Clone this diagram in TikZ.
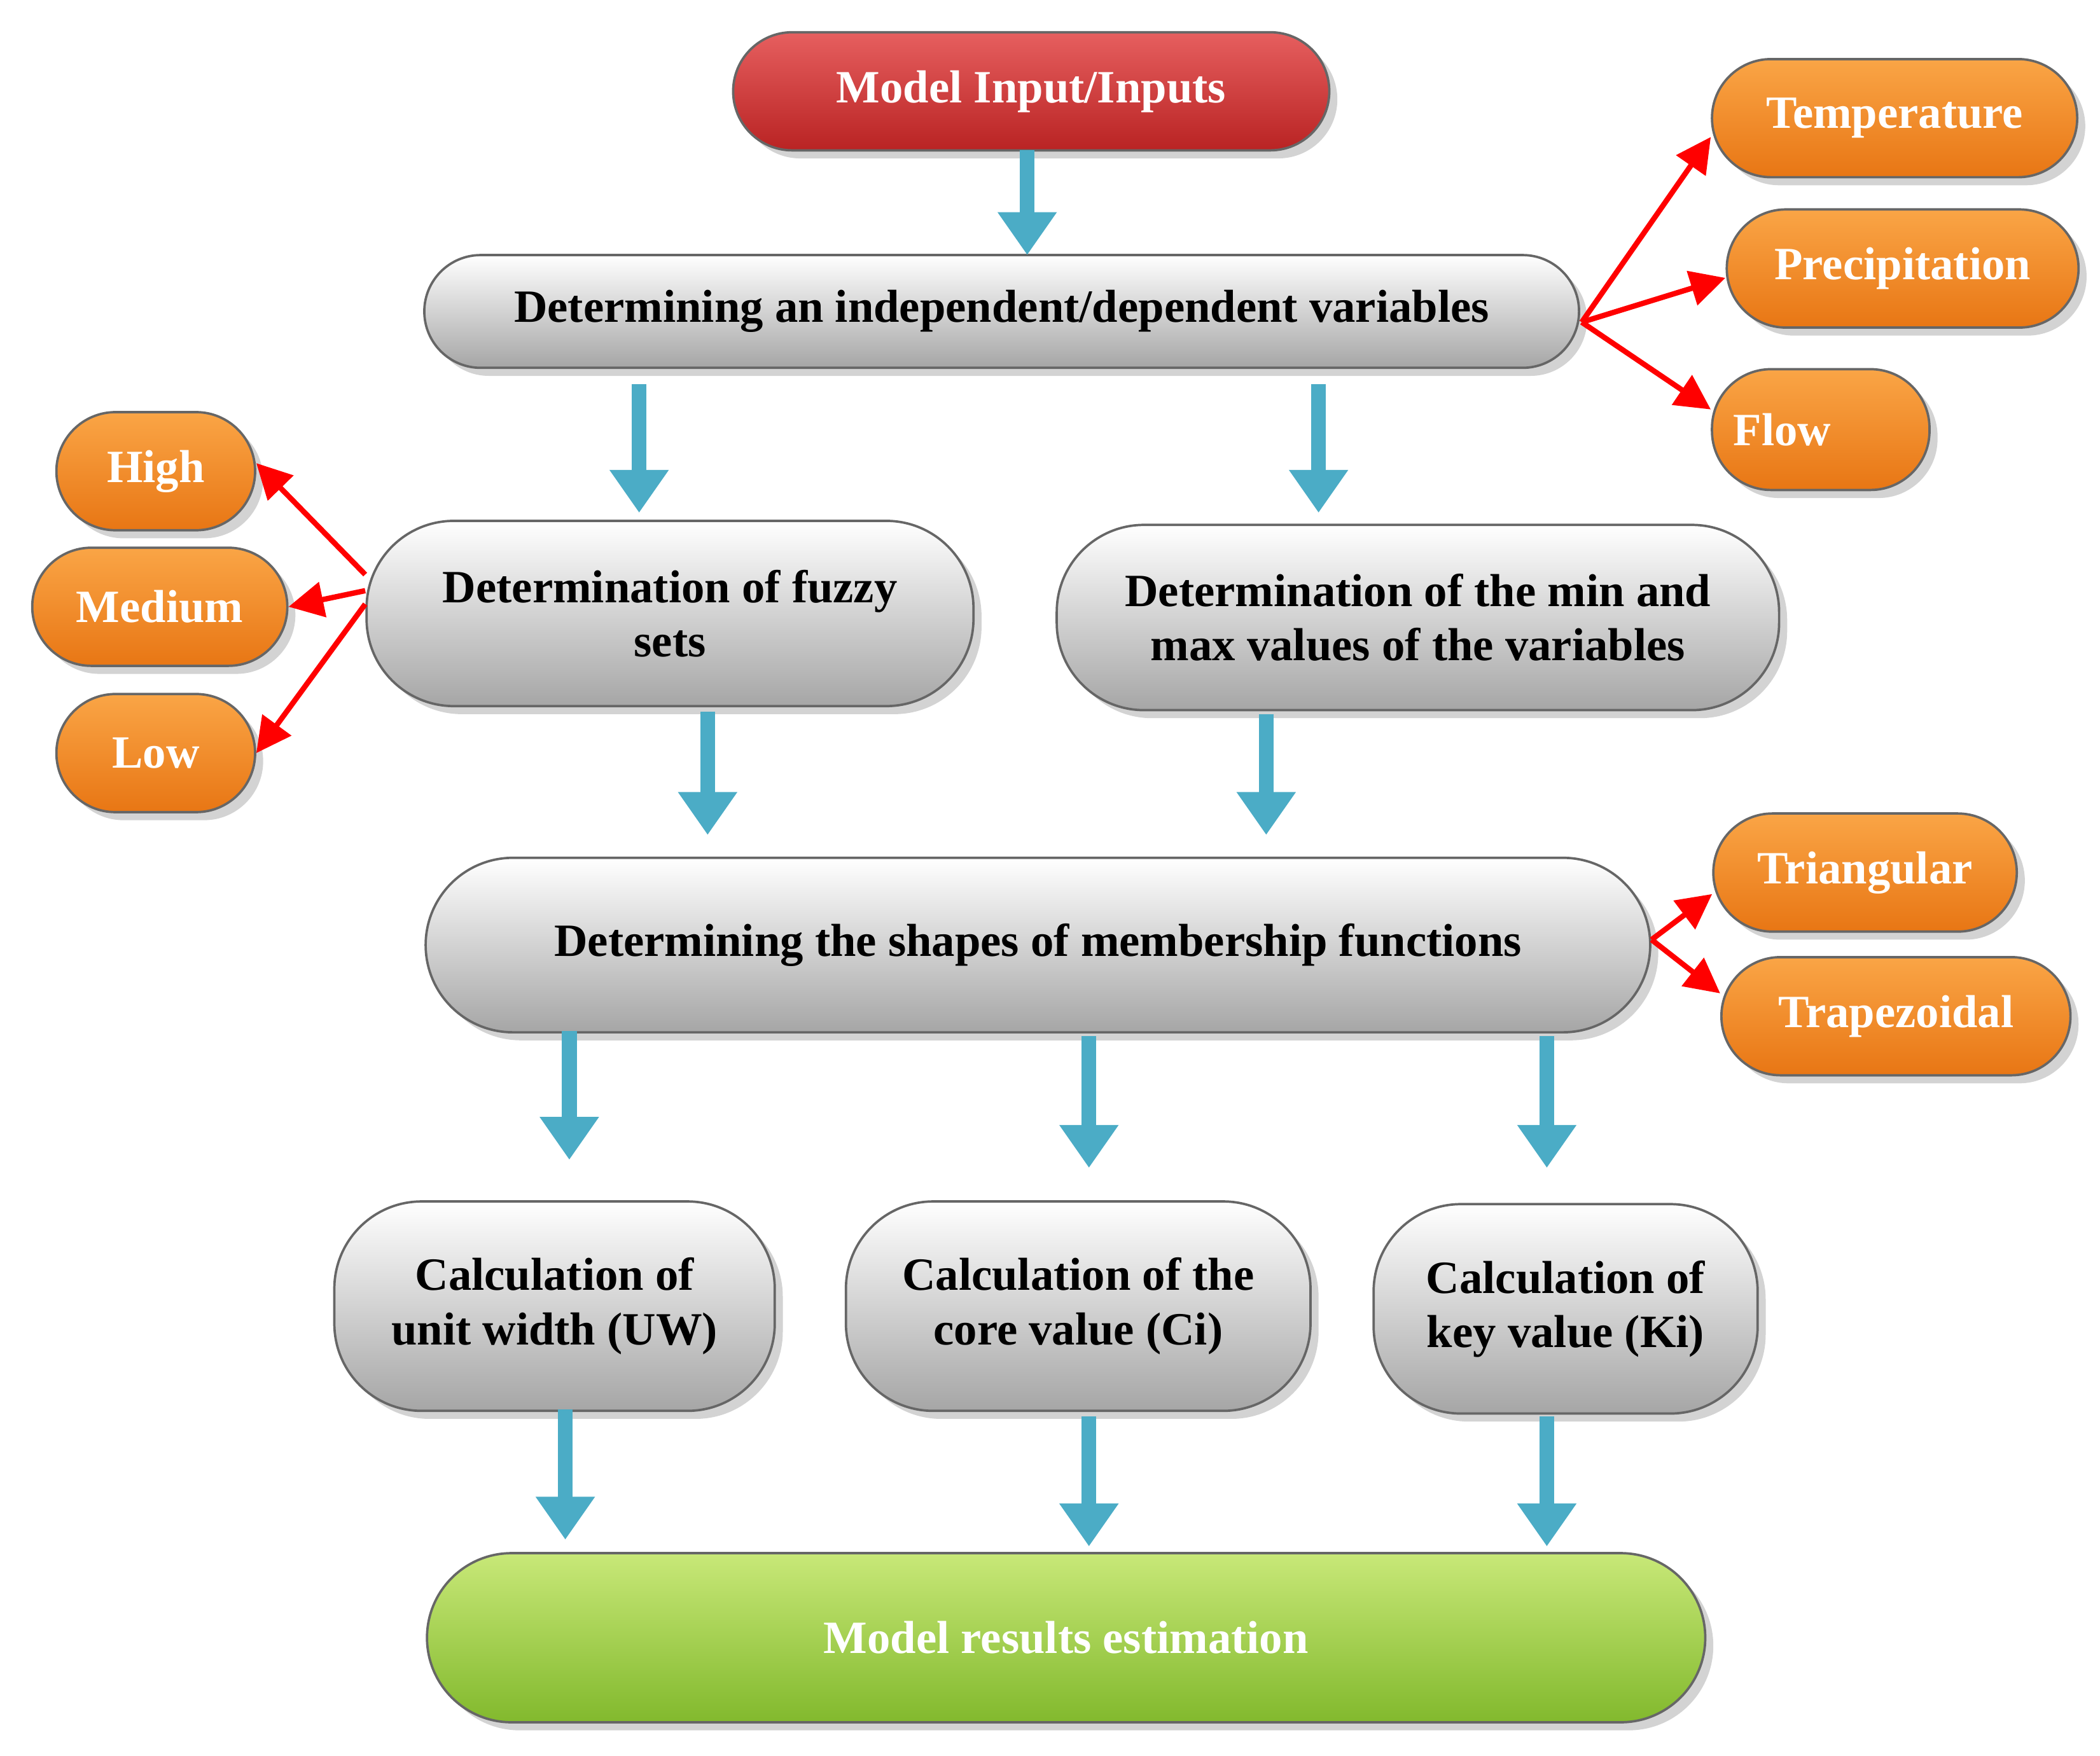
\documentclass[tikz,border=0pt]{standalone}
\usepackage{fontspec}
\setmainfont{Liberation Serif}
\usetikzlibrary{shadows,arrows.meta}
\definecolor{ablue}{RGB}{75,172,198}
\definecolor{otop}{RGB}{250,165,70}
\definecolor{obot}{RGB}{232,118,20}
\definecolor{gtop}{RGB}{200,232,120}
\definecolor{gbot}{RGB}{130,185,45}
\definecolor{rtop}{RGB}{230,95,95}
\definecolor{rbot}{RGB}{185,35,35}
\tikzset{
 x=0.1mm,y=-0.1mm,
 box/.style={draw=black!60,line width=0.5pt,rounded corners=#1,align=center,font=\fontsize{9.8}{11.5}\selectfont\bfseries,inner sep=0pt,drop shadow={shadow xshift=0.6mm,shadow yshift=-0.6mm,opacity=0.35}},
 grey/.style={box=#1,top color=white,bottom color=black!35,text=black},
 orng/.style={box=#1,top color=otop,bottom color=obot,text=white},
 redb/.style={box=#1,top color=rtop,bottom color=rbot,text=white},
 grn/.style={box=#1,top color=gtop,bottom color=gbot,text=white},
 ba/.style={draw=ablue,line width=1.1mm,-{Triangle[width=4.2mm,length=3.2mm]}},
 ra/.style={draw=red,line width=0.4mm,-{Triangle[width=2.6mm,length=2.6mm]}},
}
\begin{document}
\begin{tikzpicture}
\useasboundingbox (0,0) rectangle (1564,1308);
\node[redb=4.4mm,minimum width=44.4mm,minimum height=8.8mm] (inp) at (768,68) {Model Input/Inputs};
\node[grey=4.2mm,minimum width=86mm,minimum height=8.4mm] (var) at (746,232) {Determining an independent/dependent variables};
\node[orng=4.4mm,minimum width=27.2mm,minimum height=8.8mm] (tem) at (1411,88) {Temperature};
\node[orng=4.4mm,minimum width=26.2mm,minimum height=8.8mm] (pre) at (1417,200) {Precipitation};
\node[orng=4.4mm,minimum width=16.2mm,minimum height=9mm,text width=13mm,align=left] (flo) at (1356,320) {Flow};
\node[orng=4.4mm,minimum width=14.8mm,minimum height=8.8mm] (hig) at (116,351) {High};
\node[orng=4.4mm,minimum width=19mm,minimum height=8.8mm] (med) at (119,452) {Medium};
\node[orng=4.4mm,minimum width=14.8mm,minimum height=8.8mm] (low) at (116,561) {Low};
\node[grey=6.5mm,minimum width=45.2mm,minimum height=13.8mm] (fuz) at (499,457) {Determination of fuzzy\\sets};
\node[grey=6.5mm,minimum width=53.8mm,minimum height=13.8mm] (mm) at (1056,460) {Determination of the min and\\max values of the variables};
\node[grey=6.5mm,minimum width=91.2mm,minimum height=13mm] (shp) at (773,704) {Determining the shapes of membership functions};
\node[orng=4.4mm,minimum width=22.6mm,minimum height=8.8mm] (tri) at (1389,650) {Triangular};
\node[orng=4.4mm,minimum width=26mm,minimum height=8.8mm] (tra) at (1412,757) {Trapezoidal};
\node[grey=6.5mm,minimum width=32.8mm,minimum height=15.6mm] (uw) at (413,973) {Calculation of\\unit width (UW)};
\node[grey=6.5mm,minimum width=34.6mm,minimum height=15.6mm] (ci) at (803,973) {Calculation of the\\core value (Ci)};
\node[grey=6.5mm,minimum width=28.6mm,minimum height=15.6mm] (ki) at (1166,975) {Calculation of\\key value (Ki)};
\node[grn=6.3mm,minimum width=95.2mm,minimum height=12.6mm] (res) at (794,1220) {Model results estimation};
% blue arrows
\coordinate (a1) at (765,112); \coordinate (b1) at (765,190);
\coordinate (a2) at (476,286); \coordinate (b2) at (476,382);
\coordinate (a3) at (982,286); \coordinate (b3) at (982,382);
\coordinate (a4) at (527,530); \coordinate (b4) at (527,622);
\coordinate (a5) at (943,532); \coordinate (b5) at (943,622);
\coordinate (a6) at (424,768); \coordinate (b6) at (424,864);
\coordinate (a7) at (811,772); \coordinate (b7) at (811,870);
\coordinate (a8) at (1152,772); \coordinate (b8) at (1152,870);
\coordinate (a9) at (421,1050); \coordinate (b9) at (421,1147);
\coordinate (a10) at (811,1055); \coordinate (b10) at (811,1152);
\coordinate (a11) at (1152,1055); \coordinate (b11) at (1152,1152);
\foreach \i in {1,...,11} {\draw[ba] (a\i) -- (b\i);}
% red arrows
\coordinate (v) at (1178,240);
\draw[ra] (v) -- (tem.west |- 0,102); 
\draw[ra] (v) -- (1285,207);
\draw[ra] (v) -- (flo.west |- 0,305);
\coordinate (f1) at (272,428); \coordinate (f2) at (272,440); \coordinate (f3) at (272,450);
\draw[ra] (f1) -- (hig.east |- 0,345);
\draw[ra] (f2) -- (med.east);
\draw[ra] (f3) -- (hig.east |- 0,561);
\coordinate (s) at (1230,700);
\draw[ra] (s) -- (tri.west |- 0,666);
\draw[ra] (s) -- (tra.west |- 0,740);
\end{tikzpicture}
\end{document}
